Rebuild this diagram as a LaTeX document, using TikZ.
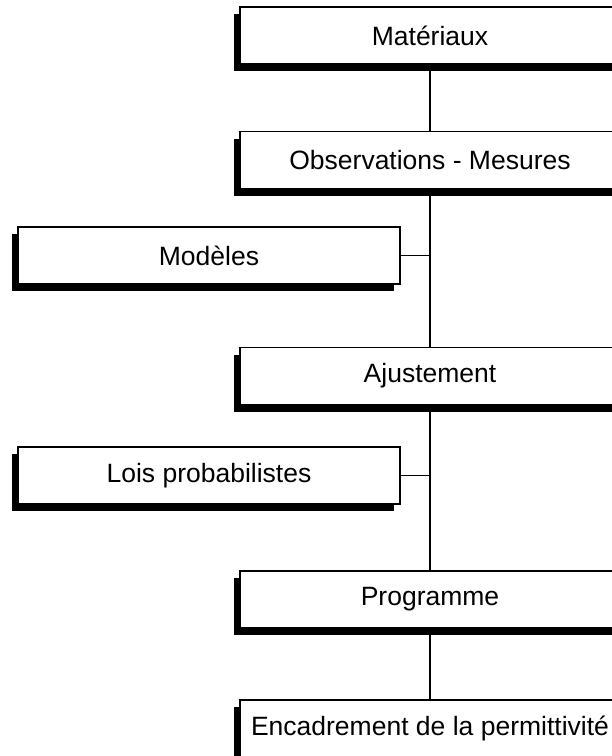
\documentclass[tikz,border=0pt]{standalone}
\usepackage{fontspec}
\setmainfont{Liberation Sans}
\usetikzlibrary{positioning}
\usetikzlibrary{shadows}
\tikzset{
    x=1pt, y=-1pt,
    every box/.style={
        draw,
        line width=1.2pt,
        fill=white,
        minimum height=57pt,
        font=\fontsize{26.5}{30}\selectfont,
        general shadow={fill=black, shadow xshift=-6pt, shadow yshift=-7pt}
    },
    stage/.style={
        every box,
        minimum width=380pt
    },
    input/.style={
        every box,
        minimum width=382pt
    },
    link/.style={
        draw,
        line width=2pt
    }
}
\begin{document}
\begin{tikzpicture}
                \useasboundingbox (0,0) rectangle (612,756);
                \clip (0,0) rectangle (612,756);
                \node[stage] (mat) at (430,35.5) {Matériaux};
                \node[stage] (obs) at (430,160) {Observations - Mesures};
                \node[stage] (ajust) at (430,376) {Ajustement};
                \node[stage] (prog) at (430,599.5) {Programme};
                \node[stage] (encad) at (430,728.5) {Encadrement de la permittivité};
                \node[input] (mod) at (209,255.5) {Modèles};
                \node[input] (lois) at (209,475.5) {Lois probabilistes};
                \draw[link] (mat) -- (obs)
                    (obs) -- (ajust)
                    (ajust) -- (prog)
                    (prog) -- (encad);
                \draw[link, line width=1.5pt] (mod.east) -- (mod.east -| obs.south);
                \draw[link, line width=1.5pt] (lois.east) -- (lois.east -| ajust.south);
            \end{tikzpicture}
\end{document}
